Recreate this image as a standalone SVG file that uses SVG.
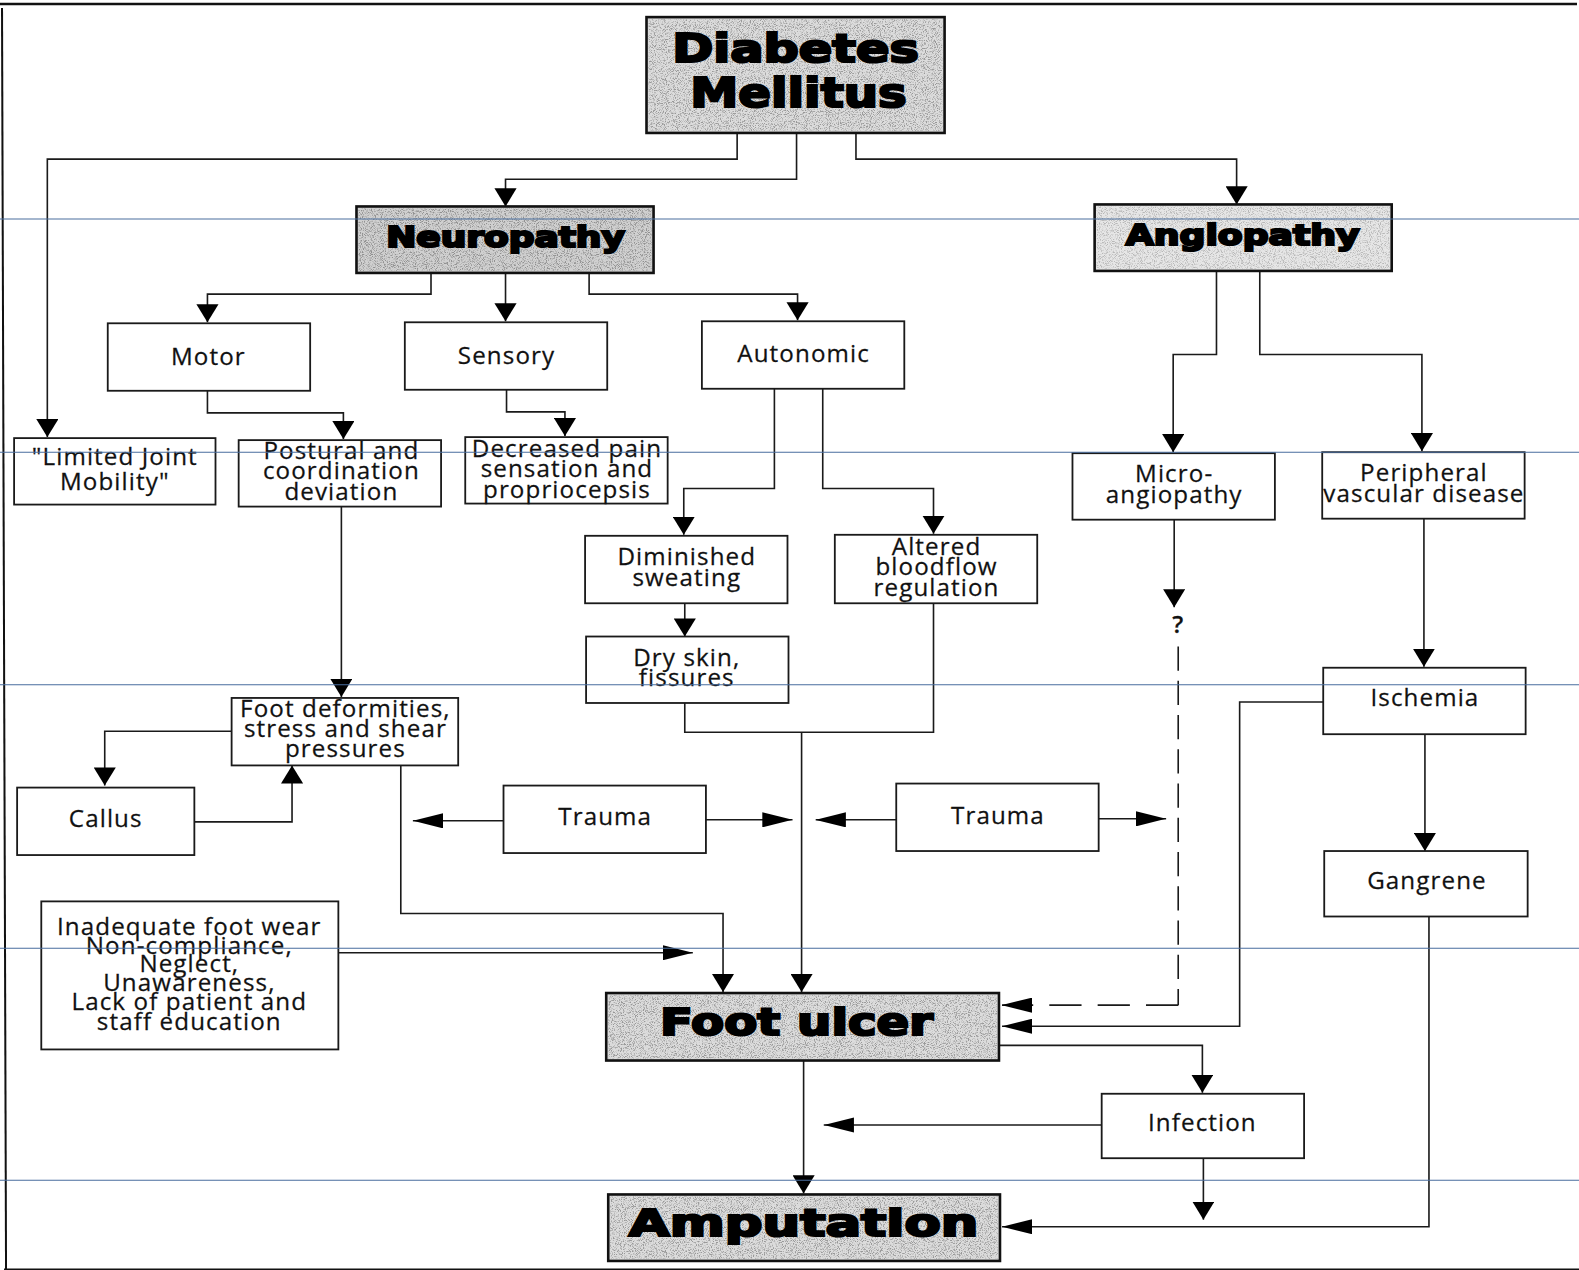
<svg xmlns="http://www.w3.org/2000/svg" width="1579" height="1270" viewBox="0 0 1579 1270">
<style>
.box{fill:#ffffff;stroke:#1a1a1a;stroke-width:1.8}
.gbox{fill:#dcdcdc;stroke:#111;stroke-width:2.6}
.grain{fill:#000;filter:url(#grain);opacity:0.3}
.t{font-family:"Open Sans","DejaVu Sans",sans-serif;font-size:24px;fill:#111;stroke:#111;stroke-width:0.25;text-anchor:middle;letter-spacing:1.1px}
.h{font-family:"DejaVu Sans","Liberation Sans",sans-serif;font-weight:bold;fill:#000;stroke:#000;stroke-width:2.2;text-anchor:middle}
.c{fill:none;stroke:#1a1a1a;stroke-width:1.6}
.cv{fill:none;stroke:#1a1a1a;stroke-width:1.6;marker-end:url(#ad)}
.ch{fill:none;stroke:#1a1a1a;stroke-width:1.6;marker-end:url(#as)}
.blue{stroke:#4a6e9e;stroke-width:1}
</style>
<defs>
<marker id="ad" markerUnits="userSpaceOnUse" markerWidth="18" markerHeight="22" viewBox="0 0 18 22" refX="18" refY="11" orient="auto"><path d="M0,0 L18,11 L0,22 z" fill="#000"/></marker>
<marker id="as" markerUnits="userSpaceOnUse" markerWidth="30" markerHeight="15" viewBox="0 0 30 15" refX="30" refY="7.5" orient="auto"><path d="M0,0 L30,7.5 L0,15 z" fill="#000"/></marker>
<filter id="grain" x="0" y="0" width="1" height="1">
<feTurbulence type="fractalNoise" baseFrequency="1.1" numOctaves="2" seed="7" result="n"/>
<feColorMatrix in="n" type="matrix" values="0 0 0 0 0  0 0 0 0 0  0 0 0 0 0  0 0 0 -4 2.1" result="dots"/>
<feComposite in="dots" in2="SourceGraphic" operator="in"/>
</filter>
</defs>
<rect x="0" y="0" width="1579" height="1270" fill="#fff"/>
<g transform="scale(1.00702,1.00714)">
<g id="page-border" fill="none" stroke="#111">
<path d="M0,4 H1566" stroke-width="2.5"/>
<path d="M2,8 L6,1262" stroke-width="2"/>
<path d="M4,1261 H1568" stroke-width="3"/>
</g>
<g id="connectors">
<path class="cv" d="M732,132 V158 H47 V434"/>
<path class="cv" d="M791,132 V178 H502 V205"/>
<path class="cv" d="M850,132 V158 H1228 V203"/>
<path class="cv" d="M428,271 V292 H206 V320"/>
<path class="cv" d="M502,271 V319"/>
<path class="cv" d="M585,271 V292 H792 V318"/>
<path class="cv" d="M206,388 V410 H341 V436"/>
<path class="cv" d="M503,387 V409 H561 V433"/>
<path class="cv" d="M769,386 V485 H679 V531"/>
<path class="cv" d="M817,386 V485 H927 V530"/>
<path class="cv" d="M1208,269 V352 H1165 V449"/>
<path class="cv" d="M1251,269 V352 H1412 V448"/>
<path class="cv" d="M1166,516 V603"/>
<path class="c" d="M1170,642 V998" stroke-dasharray="24 10"/>
<path class="ch" d="M1170,998 H995" stroke-dasharray="32 16"/>
<path class="ch" d="M1314,697 H1231 V1019 H995"/>
<path class="cv" d="M1414,515 V662"/>
<path class="cv" d="M1415,729 V845"/>
<path class="ch" d="M1419,910 V1218 H995"/>
<path class="cv" d="M680,599 V632"/>
<path class="c" d="M680,698 V727 H927 V599"/>
<path class="cv" d="M796,727 V985"/>
<path class="cv" d="M339,503 V692"/>
<path class="cv" d="M230,726 H104 V780"/>
<path class="cv" d="M193,816 H290 V760"/>
<path class="cv" d="M398,760 V907 H718 V985"/>
<path class="ch" d="M500,815 H410"/>
<path class="ch" d="M701,814 H787"/>
<path class="ch" d="M890,814 H810"/>
<path class="ch" d="M1091,813 H1158"/>
<path class="ch" d="M336,946 H688"/>
<path class="cv" d="M992,1038 H1194 V1085"/>
<path class="ch" d="M1094,1117 H818"/>
<path class="cv" d="M1195,1150 V1211"/>
<path class="cv" d="M798,1053 V1185"/>
</g>
<g id="diabetes"><rect class="gbox" x="642" y="17" width="296" height="115" stroke-width="3"/><rect class="grain" x="644" y="19" width="292" height="111"/>
<text class="h" x="790" y="62" font-size="38" textLength="245" lengthAdjust="spacingAndGlyphs">Diabetes</text>
<text class="h" x="793" y="106" font-size="40" textLength="215" lengthAdjust="spacingAndGlyphs">Mellitus</text></g>
<g id="neuropathy"><rect class="gbox" x="354" y="205" width="295" height="66" style="fill:#d0d0d0"/><rect class="grain" x="356" y="207" width="291" height="62"/>
<text class="h" x="502" y="245" font-size="28" textLength="237" lengthAdjust="spacingAndGlyphs">Neuropathy</text></g>
<g id="angiopathy"><rect class="gbox" x="1087" y="203" width="295" height="66" style="fill:#e6e6e6"/><rect class="grain" x="1089" y="205" width="291" height="62" style="opacity:0.2"/>
<text class="h" x="1234" y="243" font-size="28" textLength="232" lengthAdjust="spacingAndGlyphs">Angiopathy</text></g>
<g id="motor"><rect class="box" x="107" y="321" width="201" height="67"/><text class="t" x="207" y="362">Motor</text></g>
<g id="sensory"><rect class="box" x="402" y="320" width="201" height="67"/><text class="t" x="503" y="361">Sensory</text></g>
<g id="autonomic"><rect class="box" x="697" y="319" width="201" height="67"/><text class="t" x="798" y="359">Autonomic</text></g>
<g id="limited-joint"><rect class="box" x="14" y="435" width="200" height="66"/><text class="t" x="114" y="462">"Limited Joint</text><text class="t" x="114" y="487">Mobility"</text></g>
<g id="postural"><rect class="box" x="237" y="437" width="201" height="66"/><text class="t" x="339" y="456">Postural and</text><text class="t" x="339" y="476">coordination</text><text class="t" x="339" y="496">deviation</text></g>
<g id="decreased"><rect class="box" x="462" y="434" width="201" height="66"/><text class="t" x="563" y="454">Decreased pain</text><text class="t" x="563" y="474">sensation and</text><text class="t" x="563" y="494">propriocepsis</text></g>
<g id="micro"><rect class="box" x="1065" y="450" width="201" height="66"/><text class="t" x="1166" y="479">Micro-</text><text class="t" x="1166" y="499">angiopathy</text></g>
<g id="pvd"><rect class="box" x="1313" y="449" width="201" height="66"/><text class="t" x="1414" y="478">Peripheral</text><text class="t" x="1414" y="498">vascular disease</text></g>
<g id="diminished"><rect class="box" x="581" y="532" width="201" height="67"/><text class="t" x="682" y="561">Diminished</text><text class="t" x="682" y="582">sweating</text></g>
<g id="altered"><rect class="box" x="829" y="531" width="201" height="68"/><text class="t" x="930" y="551">Altered</text><text class="t" x="930" y="571">bloodflow</text><text class="t" x="930" y="592">regulation</text></g>
<g id="dry-skin"><rect class="box" x="582" y="632" width="201" height="66"/><text class="t" x="682" y="661">Dry skin,</text><text class="t" x="682" y="681">fissures</text></g>
<g id="question"><text class="t" x="1170" y="629" font-size="30" style="font-weight:600">?</text></g>
<g id="ischemia"><rect class="box" x="1314" y="663" width="201" height="66"/><text class="t" x="1415" y="701">Ischemia</text></g>
<g id="gangrene"><rect class="box" x="1315" y="845" width="202" height="65"/><text class="t" x="1417" y="883">Gangrene</text></g>
<g id="foot-deformities"><rect class="box" x="230" y="693" width="225" height="67"/><text class="t" x="343" y="712">Foot deformities,</text><text class="t" x="343" y="732">stress and shear</text><text class="t" x="343" y="752">pressures</text></g>
<g id="callus"><rect class="box" x="17" y="782" width="176" height="67"/><text class="t" x="105" y="821">Callus</text></g>
<g id="trauma1"><rect class="box" x="500" y="780" width="201" height="67"/><text class="t" x="601" y="819">Trauma</text></g>
<g id="trauma2"><rect class="box" x="890" y="778" width="201" height="67"/><text class="t" x="991" y="818">Trauma</text></g>
<g id="inadequate"><rect class="box" x="41" y="895" width="295" height="147"/>
<text class="t" x="188" y="928">Inadequate foot wear</text><text class="t" x="188" y="947">Non-compliance,</text><text class="t" x="188" y="965">Neglect,</text><text class="t" x="188" y="984">Unawareness,</text><text class="t" x="188" y="1003">Lack of patient and</text><text class="t" x="188" y="1023">staff education</text></g>
<g id="foot-ulcer"><rect class="gbox" x="602" y="986" width="390" height="67"/><rect class="grain" x="604" y="988" width="386" height="63"/>
<text class="h" x="791" y="1028" font-size="37" textLength="271" lengthAdjust="spacingAndGlyphs">Foot ulcer</text></g>
<g id="infection"><rect class="box" x="1094" y="1086" width="201" height="64"/><text class="t" x="1194" y="1123">Infection</text></g>
<g id="amputation"><rect class="gbox" x="604" y="1186" width="389" height="66"/><rect class="grain" x="606" y="1188" width="385" height="62"/>
<text class="h" x="798" y="1227" font-size="37" textLength="347" lengthAdjust="spacingAndGlyphs">Amputation</text></g>
<g id="scan-lines">
<path class="blue" d="M0,217.5 H1570 M0,449 H1570 M0,680 H1570 M0,941.5 H1570 M0,1172 H1570"/>
</g>
</g>
</svg>
